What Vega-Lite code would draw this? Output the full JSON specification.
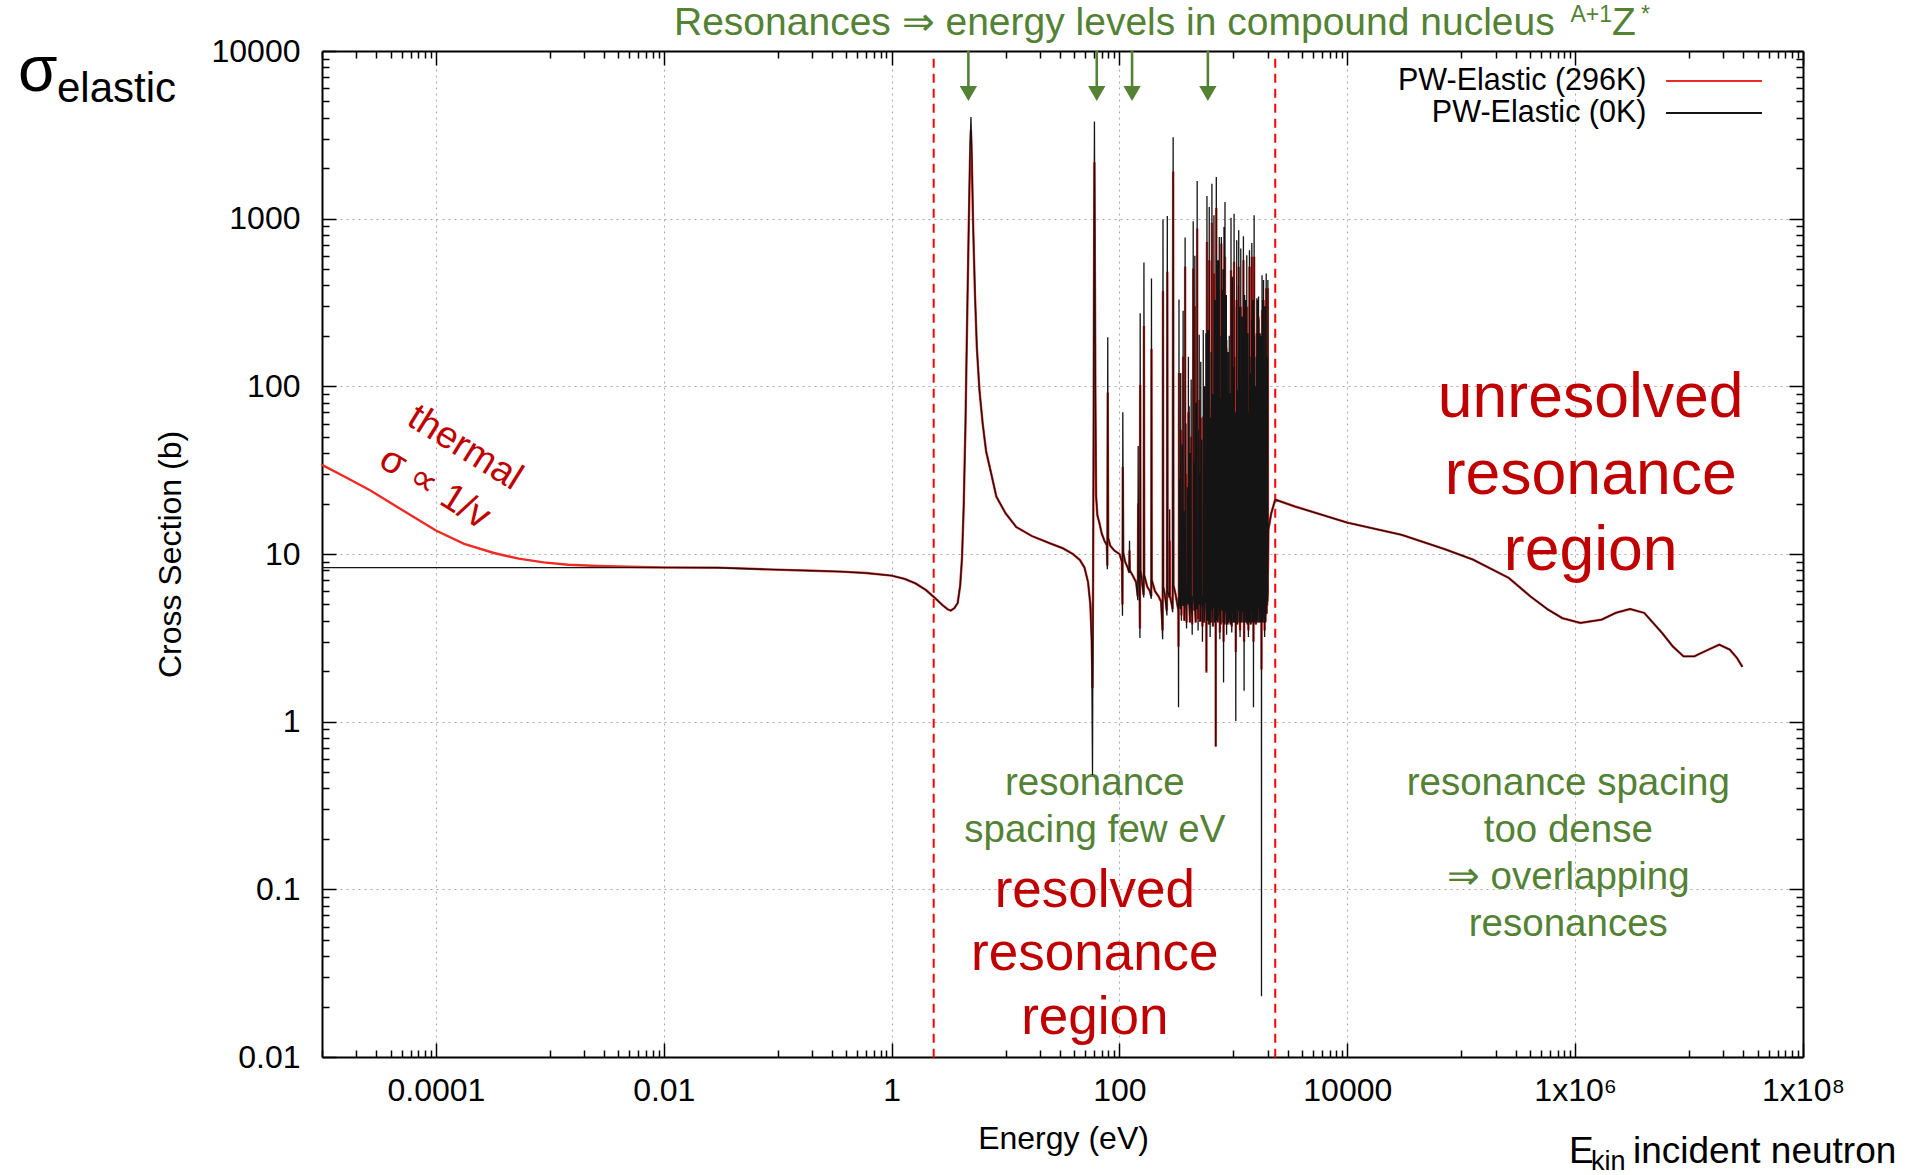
{
  "$schema": "https://vega.github.io/schema/vega-lite/v6.json",
  "width": 1481,
  "height": 1006,
  "autosize": {"type": "none"},
  "padding": {"left": 322, "top": 51, "right": 115, "bottom": 118},
  "background": "white",
  "config": {
    "view": {"stroke": null},
    "font": "Liberation Sans",
    "axis": {
      "domainColor": "black", "domainWidth": 2, "tickColor": "black", "tickWidth": 1.5,
      "labelFont": "Liberation Sans", "labelFontSize": 32, "labelColor": "black",
      "titleFont": "Liberation Sans", "titleFontSize": 32, "titleFontWeight": "normal", "titleColor": "black",
      "gridColor": "#a8a8a8", "gridDash": [2, 4], "gridWidth": 1,
      "labelFlush": false, "labelOverlap": false, "labelBound": false
    }
  },
  "datasets": {
    "xs": [
      {"E":0.00001,"b":8.29,"r":34.0},{"E":0.000016,"b":8.29,"r":28.8},{"E":0.0000264,"b":8.29,"r":24.0},{"E":0.0000506,"b":8.29,"r":18.3},
      {"E":0.0001,"b":8.29,"r":13.8},{"E":0.000177,"b":8.29,"r":11.5},{"E":0.000323,"b":8.29,"r":10.14},{"E":0.000533,"b":8.29,"r":9.38},
      {"E":0.000881,"b":8.29,"r":8.92},{"E":0.00145,"b":8.29,"r":8.63},{"E":0.00265,"b":8.3,"r":8.48},{"E":0.00484,"b":8.3,"r":8.4},
      {"E":0.01,"b":8.3,"r":8.32},{"E":0.03,"b":8.28,"r":8.29},{"E":0.08,"b":8.1,"r":8.1},{"E":0.2,"b":7.95,"r":7.95},
      {"E":0.36,"b":7.85,"r":7.85},{"E":0.6,"b":7.7,"r":7.7},{"E":1.0,"b":7.43,"r":7.43},{"E":1.3,"b":7.1,"r":7.1},
      {"E":1.62,"b":6.68,"r":6.68},{"E":2.0,"b":6.1,"r":6.1},{"E":2.42,"b":5.44,"r":5.44},{"E":2.8,"b":4.95,"r":4.95},
      {"E":3.1,"b":4.68,"r":4.68},{"E":3.3,"b":4.6,"r":4.6},{"E":3.55,"b":4.75,"r":4.75},{"E":3.8,"b":5.1,"r":5.1},
      {"E":4.0,"b":6.5,"r":6.5},{"E":4.15,"b":9.5,"r":9.5},{"E":4.3,"b":20,"r":20},{"E":4.45,"b":60,"r":60},
      {"E":4.6,"b":250,"r":240},{"E":4.75,"b":900,"r":850},{"E":4.88,"b":2600,"r":2300},{"E":4.97,"b":4040,"r":3370},
      {"E":5.06,"b":2400,"r":2200},{"E":5.2,"b":900,"r":870},{"E":5.4,"b":350,"r":340},{"E":5.6,"b":170,"r":170},
      {"E":5.9,"b":95,"r":95},{"E":6.3,"b":60,"r":60},{"E":6.75,"b":41,"r":41},{"E":7.5,"b":30,"r":30},
      {"E":8.3,"b":22,"r":22},{"E":10,"b":17.5,"r":17.5},{"E":12.4,"b":14.5,"r":14.5},{"E":17,"b":12.8,"r":12.8},
      {"E":24.3,"b":11.6,"r":11.6},{"E":32,"b":10.8,"r":10.8},{"E":39,"b":10.0,"r":10.0},{"E":45,"b":9.2,"r":9.2},
      {"E":49.3,"b":8.3,"r":8.3},{"E":53,"b":6.8,"r":6.8},{"E":55.5,"b":5.0,"r":5.0},{"E":57,"b":3.0,"r":3.2},
      {"E":58,"b":0.48,"r":1.59},{"E":58.7,"b":8,"r":7},{"E":59.3,"b":60,"r":50},{"E":59.8,"b":600,"r":450},
      {"E":60.3,"b":3800,"r":2170},{"E":60.8,"b":700,"r":600},{"E":61.5,"b":90,"r":85},{"E":62.4,"b":22,"r":22},
      {"E":64,"b":17,"r":17},{"E":66.7,"b":15.3,"r":15.3},{"E":70,"b":13.2,"r":13.2},{"E":73.8,"b":12.0,"r":12.0},
      {"E":77.5,"b":11.3,"r":11.3},{"E":78.3,"b":8.1,"r":8.5},{"E":78.9,"b":196,"r":92},{"E":79.6,"b":12.5,"r":12.5},
      {"E":83,"b":11.2,"r":11.2},{"E":90,"b":10.5,"r":10.5},{"E":100,"b":10.0,"r":10.0},{"E":105,"b":9.0,"r":9.0},
      {"E":106.3,"b":4.28,"r":5.0},{"E":107,"b":70,"r":33},{"E":108,"b":10.2,"r":10.2},{"E":112,"b":9.0,"r":9.0},
      {"E":118,"b":8.3,"r":8.3},{"E":121.8,"b":7.7,"r":7.8},{"E":122.5,"b":12,"r":10.5},{"E":123.2,"b":8.0,"r":8.0},
      {"E":130,"b":7.5,"r":7.5},{"E":140,"b":6.8,"r":6.8},{"E":145,"b":5.3,"r":5.6},{"E":146,"b":44,"r":20},
      {"E":147,"b":8.0,"r":8.0},{"E":150,"b":6.5,"r":6.5},{"E":151.3,"b":3.15,"r":3.6},{"E":152,"b":273,"r":102},
      {"E":153,"b":8.0,"r":8.0},{"E":158,"b":6.8,"r":6.8},{"E":163.3,"b":5.5,"r":5.7},{"E":164,"b":548,"r":229},
      {"E":165,"b":7.5,"r":7.5},{"E":175,"b":6.4,"r":6.4},{"E":185,"b":6.0,"r":6.0},{"E":190.2,"b":5.4,"r":5.6},
      {"E":191,"b":440,"r":167},{"E":192,"b":7.0,"r":7.0},{"E":205,"b":6.0,"r":6.0},{"E":220,"b":5.6,"r":5.6},
      {"E":232,"b":5.2,"r":5.2},{"E":239.5,"b":3.1,"r":3.5},{"E":241,"b":987,"r":370},{"E":242.5,"b":6.4,"r":6.4},
      {"E":252,"b":5.5,"r":5.5},{"E":261,"b":4.3,"r":4.6},{"E":263,"b":1037,"r":482},{"E":265,"b":6.0,"r":6.0},
      {"E":275.2,"b":5.5,"r":5.5},{"E":276,"b":18.5,"r":12},{"E":277,"b":5.6,"r":5.6},{"E":288,"b":5.0,"r":5.0},
      {"E":293,"b":4.5,"r":4.7},{"E":296,"b":3055,"r":1911},{"E":298,"b":6.5,"r":6.5},{"E":310,"b":5.8,"r":5.8},
      {"E":322,"b":5.0,"r":5.0},{"E":329,"b":4.6,"r":4.6},{"E":330,"b":1.22,"r":2.8},{"E":331,"b":5.4,"r":5.4},
      {"E":332.2,"b":5.4,"r":5.4},{"E":333,"b":330,"r":120},{"E":333.8,"b":6.2,"r":6.2},{"E":338,"b":5.5,"r":5.5},
      {"E":338.8,"b":28,"r":15},{"E":339.6,"b":5.0,"r":5.0},{"E":344,"b":4.7,"r":4.7},{"E":345,"b":120,"r":55},
      {"E":346,"b":6.0,"r":6.0},{"E":349,"b":5.2,"r":5.2},{"E":350,"b":4.0,"r":4.3},{"E":351,"b":5.6,"r":5.6},
      {"E":355,"b":6.5,"r":6.5},{"E":355.8,"b":45,"r":22},{"E":356.6,"b":5.8,"r":5.8},{"E":361,"b":4.9,"r":4.9},
      {"E":362,"b":282,"r":150},{"E":363,"b":6.3,"r":6.3},{"E":369,"b":5.5,"r":5.5},{"E":370,"b":18,"r":10},
      {"E":371,"b":4.0,"r":4.0},{"E":376,"b":5.9,"r":5.9},{"E":377,"b":771,"r":516},{"E":378,"b":6.8,"r":6.8},
      {"E":382,"b":5.2,"r":5.2},{"E":383,"b":60,"r":30},{"E":384,"b":5.0,"r":5.0},{"E":387,"b":4.5,"r":4.5},
      {"E":388,"b":3.6,"r":3.9},{"E":389,"b":5.5,"r":5.5},{"E":395,"b":6.6,"r":6.6},{"E":396,"b":25,"r":14},
      {"E":397,"b":5.3,"r":5.3},{"E":402,"b":5.0,"r":5.0},{"E":402.8,"b":150,"r":70},{"E":403.6,"b":5.8,"r":5.8},
      {"E":408,"b":6.0,"r":6.0},{"E":409,"b":76,"r":28},{"E":410,"b":5.0,"r":5.0},{"E":416,"b":3.9,"r":3.9},
      {"E":417,"b":40,"r":20},{"E":418,"b":6.2,"r":6.2},{"E":425,"b":5.5,"r":5.5},{"E":426,"b":110,"r":50},
      {"E":427,"b":4.8,"r":4.8},{"E":434,"b":4.2,"r":4.2},{"E":435,"b":3.3,"r":3.8},{"E":436,"b":5.6,"r":5.6},
      {"E":443,"b":5.4,"r":5.4},{"E":444,"b":964,"r":505},{"E":445,"b":6.4,"r":6.4},{"E":451,"b":5.0,"r":5.0},
      {"E":452,"b":35,"r":18},{"E":453,"b":4.6,"r":4.6},{"E":458,"b":5.8,"r":5.8},{"E":459,"b":600,"r":300},
      {"E":460,"b":4.9,"r":4.9},{"E":467,"b":3.9,"r":3.9},{"E":468,"b":80,"r":38},{"E":469,"b":6.0,"r":6.0},
      {"E":474,"b":5.6,"r":5.6},{"E":475,"b":22,"r":12},{"E":476,"b":4.8,"r":4.8},{"E":480,"b":4.7,"r":4.7},
      {"E":481,"b":1675,"r":873},{"E":482,"b":6.5,"r":6.5},{"E":489,"b":4.6,"r":4.6},{"E":490,"b":3.5,"r":4.1},
      {"E":491,"b":5.8,"r":5.8},{"E":495,"b":6.2,"r":6.2},{"E":496,"b":55,"r":26},{"E":497,"b":5.2,"r":5.2},
      {"E":500,"b":5.0,"r":5.0},{"E":501,"b":203,"r":83},{"E":502,"b":6.1,"r":6.1},{"E":508,"b":5.4,"r":5.4},
      {"E":509,"b":30,"r":16},{"E":510,"b":4.0,"r":4.0},{"E":516,"b":4.0,"r":4.0},{"E":517,"b":140,"r":65},
      {"E":518,"b":5.9,"r":5.9},{"E":525,"b":6.4,"r":6.4},{"E":526,"b":48,"r":24},{"E":527,"b":5.5,"r":5.5},
      {"E":534,"b":4.6,"r":4.6},{"E":535,"b":3.0,"r":3.7},{"E":536,"b":5.2,"r":5.2},{"E":543,"b":5.7,"r":5.7},
      {"E":544,"b":217,"r":66},{"E":545,"b":4.9,"r":4.9},{"E":550,"b":5.8,"r":5.8},{"E":551,"b":65,"r":35},
      {"E":552,"b":3.9,"r":3.9},{"E":557,"b":4.2,"r":4.2},{"E":558,"b":100,"r":48},{"E":559,"b":6.0,"r":6.0},
      {"E":566,"b":5.5,"r":5.5},{"E":567,"b":35,"r":18},{"E":568,"b":5.1,"r":5.1},{"E":573,"b":6.1,"r":6.1},
      {"E":574,"b":207,"r":100},{"E":575,"b":4.8,"r":4.8},{"E":579,"b":4.4,"r":4.4},{"E":580,"b":2.0,"r":1.96},
      {"E":581,"b":5.3,"r":5.3},{"E":585,"b":5.0,"r":5.0},{"E":586,"b":1365,"r":726},{"E":587,"b":6.4,"r":6.4},
      {"E":593,"b":5.6,"r":5.6},{"E":594,"b":28,"r":15},{"E":595,"b":4.0,"r":4.0},{"E":600,"b":4.9,"r":4.9},
      {"E":601,"b":217,"r":100},{"E":602,"b":6.0,"r":6.0},{"E":607,"b":5.3,"r":5.3},{"E":608,"b":70,"r":34},
      {"E":609,"b":3.8,"r":3.8},{"E":613,"b":4.8,"r":4.8},{"E":614,"b":1173,"r":565},{"E":615,"b":6.2,"r":6.2},
      {"E":619,"b":5.6,"r":5.6},{"E":620,"b":40,"r":20},{"E":621,"b":5.0,"r":5.0},{"E":624,"b":4.4,"r":4.4},
      {"E":625,"b":3.2,"r":3.9},{"E":626,"b":5.4,"r":5.4},{"E":630,"b":5.8,"r":5.8},{"E":631,"b":65,"r":35},
      {"E":632,"b":4.7,"r":4.7},{"E":637,"b":3.9,"r":3.9},{"E":638,"b":160,"r":75},{"E":639,"b":6.0,"r":6.0},
      {"E":643,"b":5.4,"r":5.4},{"E":644,"b":30,"r":16},{"E":645,"b":5.0,"r":5.0},{"E":647,"b":4.6,"r":4.6},
      {"E":648,"b":1615,"r":947},{"E":649,"b":6.4,"r":6.4},{"E":656,"b":5.7,"r":5.7},{"E":657,"b":37,"r":20},
      {"E":658,"b":4.5,"r":4.5},{"E":662,"b":3.7,"r":3.7},{"E":663,"b":90,"r":42},{"E":664,"b":5.9,"r":5.9},
      {"E":669,"b":6.2,"r":6.2},{"E":670,"b":25,"r":14},{"E":671,"b":5.0,"r":5.0},{"E":674,"b":4.8,"r":4.8},
      {"E":675,"b":1047,"r":471},{"E":676,"b":6.0,"r":6.0},{"E":682,"b":5.4,"r":5.4},{"E":683,"b":55,"r":26},
      {"E":684,"b":3.9,"r":3.9},{"E":688,"b":4.6,"r":4.6},{"E":689,"b":327,"r":150},{"E":690,"b":5.6,"r":5.6},
      {"E":694,"b":6.0,"r":6.0},{"E":695,"b":20,"r":12},{"E":696,"b":5.2,"r":5.2},{"E":699,"b":4.5,"r":4.5},
      {"E":700,"b":0.71,"r":0.71},{"E":701,"b":5.4,"r":5.4},{"E":707,"b":4.9,"r":4.9},{"E":708,"b":1770,"r":1157},
      {"E":709,"b":6.6,"r":6.6},{"E":714,"b":5.5,"r":5.5},{"E":715,"b":120,"r":55},{"E":716,"b":4.0,"r":4.0},
      {"E":721,"b":4.8,"r":4.8},{"E":722,"b":565,"r":260},{"E":723,"b":6.1,"r":6.1},{"E":729,"b":5.8,"r":5.8},
      {"E":730,"b":45,"r":22},{"E":731,"b":3.9,"r":3.9},{"E":737,"b":4.4,"r":4.4},{"E":738,"b":565,"r":261},
      {"E":739,"b":5.8,"r":5.8},{"E":745,"b":6.3,"r":6.3},{"E":746,"b":30,"r":16},{"E":747,"b":5.1,"r":5.1},
      {"E":751,"b":4.9,"r":4.9},{"E":752,"b":778,"r":380},{"E":753,"b":6.0,"r":6.0},{"E":760,"b":4.2,"r":4.2},
      {"E":761,"b":3.1,"r":3.4},{"E":762,"b":5.0,"r":5.0},{"E":767,"b":5.8,"r":5.8},{"E":768,"b":85,"r":40},
      {"E":769,"b":4.7,"r":4.7},{"E":775,"b":3.8,"r":3.8},{"E":776,"b":200,"r":95},{"E":777,"b":6.2,"r":6.2},
      {"E":783,"b":5.3,"r":5.3},{"E":784,"b":778,"r":710},{"E":785,"b":6.5,"r":6.5},{"E":789,"b":5.6,"r":5.6},
      {"E":790,"b":38,"r":19},{"E":791,"b":4.6,"r":4.6},{"E":793,"b":4.7,"r":4.7},{"E":794,"b":375,"r":180},
      {"E":795,"b":5.7,"r":5.7},{"E":801,"b":6.4,"r":6.4},{"E":802,"b":60,"r":30},{"E":803,"b":5.2,"r":5.2},
      {"E":809,"b":5.0,"r":5.0},{"E":810,"b":500,"r":250},{"E":811,"b":3.9,"r":3.9},{"E":815,"b":5.9,"r":5.9},
      {"E":816,"b":26,"r":14},{"E":817,"b":5.0,"r":5.0},{"E":819,"b":4.6,"r":4.6},{"E":820,"b":1.71,"r":3.0},
      {"E":821,"b":5.2,"r":5.2},{"E":826,"b":4.8,"r":4.8},{"E":827,"b":891,"r":375},{"E":828,"b":6.3,"r":6.3},
      {"E":835,"b":5.5,"r":5.5},{"E":836,"b":45,"r":22},{"E":837,"b":3.8,"r":3.8},{"E":843,"b":4.7,"r":4.7},
      {"E":844,"b":1256,"r":592},{"E":845,"b":6.5,"r":6.5},{"E":850,"b":5.8,"r":5.8},{"E":851,"b":120,"r":58},
      {"E":852,"b":5.0,"r":5.0},{"E":858,"b":4.5,"r":4.5},{"E":859,"b":33,"r":17},{"E":860,"b":6.1,"r":6.1},
      {"E":866,"b":5.9,"r":5.9},{"E":867,"b":350,"r":170},{"E":868,"b":4.8,"r":4.8},{"E":871,"b":4.3,"r":4.3},
      {"E":872,"b":3.3,"r":3.9},{"E":873,"b":189,"r":95},{"E":874,"b":5.5,"r":5.5},{"E":880,"b":6.2,"r":6.2},
      {"E":881,"b":50,"r":25},{"E":882,"b":5.1,"r":5.1},{"E":889,"b":3.8,"r":3.8},{"E":890,"b":22,"r":12},
      {"E":891,"b":5.6,"r":5.6},{"E":896,"b":5.3,"r":5.3},{"E":897,"b":160,"r":75},{"E":898,"b":4.6,"r":4.6},
      {"E":902,"b":4.9,"r":4.9},{"E":903,"b":95,"r":45},{"E":904,"b":6.2,"r":6.2},{"E":910,"b":5.6,"r":5.6},
      {"E":911,"b":35,"r":18},{"E":912,"b":3.9,"r":3.9},{"E":919,"b":4.2,"r":4.2},{"E":920,"b":200,"r":90},
      {"E":921,"b":5.8,"r":5.8},{"E":927,"b":6.0,"r":6.0},{"E":928,"b":60,"r":30},{"E":929,"b":4.9,"r":4.9},
      {"E":934,"b":4.6,"r":4.6},{"E":935,"b":91,"r":45},{"E":936,"b":6.3,"r":6.3},{"E":942,"b":5.2,"r":5.2},
      {"E":943,"b":28,"r":15},{"E":944,"b":3.8,"r":3.8},{"E":952,"b":4.7,"r":4.7},{"E":953,"b":1014,"r":493},
      {"E":954,"b":6.4,"r":6.4},{"E":960,"b":5.5,"r":5.5},{"E":961,"b":40,"r":20},{"E":962,"b":4.8,"r":4.8},
      {"E":966,"b":4.3,"r":4.3},{"E":968,"b":3.4,"r":3.7},{"E":970,"b":5.3,"r":5.3},{"E":978,"b":5.8,"r":5.8},
      {"E":980,"b":450,"r":220},{"E":982,"b":4.6,"r":4.6},{"E":985,"b":5.0,"r":5.0},{"E":986,"b":73,"r":35},
      {"E":987,"b":6.0,"r":6.0},{"E":995,"b":5.6,"r":5.6},{"E":996,"b":25,"r":13},{"E":997,"b":3.9,"r":3.9},
      {"E":1004,"b":4.9,"r":4.9},{"E":1005,"b":130,"r":60},{"E":1006,"b":6.2,"r":6.2},{"E":1012,"b":4.6,"r":4.6},
      {"E":1014,"b":1071,"r":553},{"E":1016,"b":6.0,"r":6.0},{"E":1020,"b":5.2,"r":5.2},{"E":1021,"b":150,"r":70},
      {"E":1022,"b":3.9,"r":3.9},{"E":1030,"b":5.9,"r":5.9},{"E":1031,"b":32,"r":17},{"E":1032,"b":5.1,"r":5.1},
      {"E":1040,"b":5.5,"r":5.5},{"E":1041,"b":70,"r":34},{"E":1042,"b":4.6,"r":4.6},{"E":1048,"b":4.4,"r":4.4},
      {"E":1050,"b":1.01,"r":2.6},{"E":1052,"b":5.5,"r":5.5},{"E":1058,"b":6.0,"r":6.0},{"E":1059,"b":45,"r":22},
      {"E":1060,"b":5.0,"r":5.0},{"E":1063,"b":4.7,"r":4.7},{"E":1065,"b":300,"r":150},{"E":1067,"b":6.0,"r":6.0},
      {"E":1068,"b":5.5,"r":5.5},{"E":1070,"b":743,"r":327},{"E":1072,"b":6.3,"r":6.3},{"E":1080,"b":5.0,"r":5.0},
      {"E":1081,"b":28,"r":15},{"E":1082,"b":3.8,"r":3.8},{"E":1090,"b":5.8,"r":5.8},{"E":1091,"b":95,"r":45},
      {"E":1092,"b":5.2,"r":5.2},{"E":1100,"b":4.6,"r":4.6},{"E":1101,"b":40,"r":20},{"E":1102,"b":6.1,"r":6.1},
      {"E":1108,"b":5.6,"r":5.6},{"E":1110,"b":400,"r":200},{"E":1112,"b":4.8,"r":4.8},{"E":1113,"b":4.8,"r":4.8},
      {"E":1114,"b":852,"r":516},{"E":1116,"b":6.4,"r":6.4},{"E":1121,"b":5.0,"r":5.0},{"E":1122,"b":55,"r":27},
      {"E":1123,"b":3.9,"r":3.9},{"E":1127,"b":4.7,"r":4.7},{"E":1129,"b":298,"r":140},{"E":1131,"b":6.0,"r":6.0},
      {"E":1137,"b":5.7,"r":5.7},{"E":1138,"b":30,"r":16},{"E":1139,"b":5.0,"r":5.0},{"E":1143,"b":4.4,"r":4.4},
      {"E":1145,"b":3.2,"r":3.5},{"E":1147,"b":5.4,"r":5.4},{"E":1152,"b":6.2,"r":6.2},{"E":1153,"b":75,"r":36},
      {"E":1154,"b":5.2,"r":5.2},{"E":1159,"b":4.8,"r":4.8},{"E":1161,"b":663,"r":298},{"E":1163,"b":6.2,"r":6.2},
      {"E":1170,"b":5.4,"r":5.4},{"E":1171,"b":40,"r":20},{"E":1172,"b":3.9,"r":3.9},{"E":1178,"b":4.9,"r":4.9},
      {"E":1180,"b":250,"r":120},{"E":1182,"b":6.0,"r":6.0},{"E":1190,"b":5.6,"r":5.6},{"E":1192,"b":261,"r":120},
      {"E":1194,"b":4.8,"r":4.8},{"E":1200,"b":4.5,"r":4.5},{"E":1201,"b":32,"r":17},{"E":1202,"b":5.8,"r":5.8},
      {"E":1210,"b":6.3,"r":6.3},{"E":1211,"b":90,"r":43},{"E":1212,"b":5.0,"r":5.0},{"E":1217,"b":3.9,"r":3.9},
      {"E":1218,"b":45,"r":22},{"E":1219,"b":5.4,"r":5.4},{"E":1223,"b":5.5,"r":5.5},{"E":1225,"b":785,"r":565},
      {"E":1227,"b":6.5,"r":6.5},{"E":1233,"b":5.0,"r":5.0},{"E":1234,"b":28,"r":15},{"E":1235,"b":4.6,"r":4.6},
      {"E":1240,"b":4.3,"r":4.3},{"E":1242,"b":1.53,"r":3.0},{"E":1244,"b":5.5,"r":5.5},{"E":1253,"b":5.8,"r":5.8},
      {"E":1255,"b":350,"r":170},{"E":1257,"b":4.9,"r":4.9},{"E":1264,"b":3.9,"r":3.9},{"E":1265,"b":60,"r":30},
      {"E":1266,"b":6.0,"r":6.0},{"E":1274,"b":5.6,"r":5.6},{"E":1276,"b":327,"r":150},{"E":1278,"b":4.7,"r":4.7},
      {"E":1285,"b":5.0,"r":5.0},{"E":1286,"b":38,"r":19},{"E":1287,"b":5.9,"r":5.9},{"E":1294,"b":6.1,"r":6.1},
      {"E":1295,"b":110,"r":52},{"E":1296,"b":5.0,"r":5.0},{"E":1302,"b":3.9,"r":3.9},{"E":1303,"b":25,"r":14},
      {"E":1304,"b":5.5,"r":5.5},{"E":1309,"b":5.3,"r":5.3},{"E":1311,"b":605,"r":298},{"E":1313,"b":6.3,"r":6.3},
      {"E":1320,"b":5.6,"r":5.6},{"E":1322,"b":200,"r":100},{"E":1324,"b":4.5,"r":4.5},{"E":1329,"b":3.8,"r":3.8},
      {"E":1330,"b":45,"r":22},{"E":1331,"b":5.6,"r":5.6},{"E":1335,"b":5.8,"r":5.8},{"E":1337,"b":207,"r":100},
      {"E":1339,"b":4.9,"r":4.9},{"E":1345,"b":5.0,"r":5.0},{"E":1346,"b":30,"r":16},{"E":1347,"b":6.1,"r":6.1},
      {"E":1353,"b":4.3,"r":4.3},{"E":1355,"b":3.2,"r":3.5},{"E":1357,"b":5.2,"r":5.2},{"E":1365,"b":5.9,"r":5.9},
      {"E":1366,"b":70,"r":34},{"E":1367,"b":4.8,"r":4.8},{"E":1374,"b":3.9,"r":3.9},{"E":1375,"b":35,"r":18},
      {"E":1376,"b":5.7,"r":5.7},{"E":1378,"b":5.3,"r":5.3},{"E":1379,"b":300,"r":150},{"E":1380,"b":4.8,"r":4.8},
      {"E":1382,"b":5.0,"r":5.0},{"E":1384,"b":649,"r":516},{"E":1386,"b":6.4,"r":6.4},{"E":1392,"b":5.4,"r":5.4},
      {"E":1393,"b":40,"r":20},{"E":1394,"b":3.9,"r":3.9},{"E":1401,"b":4.7,"r":4.7},{"E":1403,"b":120,"r":60},
      {"E":1405,"b":6.0,"r":6.0},{"E":1412,"b":5.9,"r":5.9},{"E":1413,"b":55,"r":27},{"E":1414,"b":5.0,"r":5.0},
      {"E":1421,"b":3.8,"r":3.8},{"E":1422,"b":28,"r":15},{"E":1423,"b":5.8,"r":5.8},{"E":1430,"b":6.2,"r":6.2},
      {"E":1431,"b":150,"r":70},{"E":1432,"b":4.9,"r":4.9},{"E":1440,"b":4.6,"r":4.6},{"E":1441,"b":40,"r":20},
      {"E":1442,"b":5.4,"r":5.4},{"E":1444,"b":5.3,"r":5.3},{"E":1445,"b":250,"r":120},{"E":1446,"b":4.8,"r":4.8},
      {"E":1450,"b":5.0,"r":5.0},{"E":1452,"b":716,"r":592},{"E":1454,"b":6.4,"r":6.4},{"E":1460,"b":5.6,"r":5.6},
      {"E":1461,"b":35,"r":18},{"E":1462,"b":3.9,"r":3.9},{"E":1468,"b":4.4,"r":4.4},{"E":1469,"b":80,"r":38},
      {"E":1470,"b":5.9,"r":5.9},{"E":1480,"b":5.9,"r":5.9},{"E":1482,"b":327,"r":150},{"E":1484,"b":4.8,"r":4.8},
      {"E":1490,"b":5.2,"r":5.2},{"E":1491,"b":45,"r":22},{"E":1492,"b":4.6,"r":4.6},{"E":1499,"b":4.3,"r":4.3},
      {"E":1501,"b":1.22,"r":3.0},{"E":1503,"b":5.4,"r":5.4},{"E":1510,"b":5.7,"r":5.7},{"E":1511,"b":60,"r":30},
      {"E":1512,"b":5.0,"r":5.0},{"E":1519,"b":4.8,"r":4.8},{"E":1521,"b":1047,"r":592},{"E":1523,"b":6.5,"r":6.5},
      {"E":1530,"b":5.3,"r":5.3},{"E":1531,"b":200,"r":100},{"E":1532,"b":3.9,"r":3.9},{"E":1540,"b":4.5,"r":4.5},
      {"E":1541,"b":30,"r":16},{"E":1542,"b":5.8,"r":5.8},{"E":1550,"b":6.0,"r":6.0},{"E":1551,"b":100,"r":48},
      {"E":1552,"b":5.0,"r":5.0},{"E":1562,"b":4.7,"r":4.7},{"E":1564,"b":73,"r":35},{"E":1566,"b":5.9,"r":5.9},
      {"E":1575,"b":5.4,"r":5.4},{"E":1576,"b":40,"r":20},{"E":1577,"b":3.8,"r":3.8},{"E":1585,"b":4.6,"r":4.6},
      {"E":1586,"b":150,"r":72},{"E":1587,"b":6.1,"r":6.1},{"E":1595,"b":5.8,"r":5.8},{"E":1596,"b":28,"r":15},
      {"E":1597,"b":5.0,"r":5.0},{"E":1604,"b":4.7,"r":4.7},{"E":1606,"b":335,"r":207},{"E":1608,"b":6.2,"r":6.2},
      {"E":1615,"b":5.3,"r":5.3},{"E":1616,"b":55,"r":27},{"E":1617,"b":3.9,"r":3.9},{"E":1625,"b":4.5,"r":4.5},
      {"E":1626,"b":90,"r":44},{"E":1627,"b":5.8,"r":5.8},{"E":1639,"b":5.9,"r":5.9},{"E":1641,"b":327,"r":150},
      {"E":1643,"b":4.8,"r":4.8},{"E":1650,"b":5.0,"r":5.0},{"E":1651,"b":35,"r":18},{"E":1652,"b":5.6,"r":5.6},
      {"E":1660,"b":4.8,"r":4.8},{"E":1662,"b":343,"r":261},{"E":1664,"b":6.4,"r":6.4},{"E":1672,"b":5.5,"r":5.5},
      {"E":1673,"b":250,"r":120},{"E":1674,"b":3.9,"r":3.9},{"E":1682,"b":4.5,"r":4.5},{"E":1683,"b":40,"r":20},
      {"E":1684,"b":5.9,"r":5.9},{"E":1692,"b":6.1,"r":6.1},{"E":1693,"b":65,"r":32},{"E":1694,"b":5.1,"r":5.1},
      {"E":1703,"b":3.9,"r":3.9},{"E":1704,"b":30,"r":16},{"E":1705,"b":5.6,"r":5.6},{"E":1716,"b":5.5,"r":5.5},
      {"E":1718,"b":207,"r":100},{"E":1720,"b":4.6,"r":4.6},{"E":1728,"b":4.4,"r":4.4},{"E":1729,"b":120,"r":58},
      {"E":1730,"b":6.0,"r":6.0},{"E":1738,"b":5.8,"r":5.8},{"E":1739,"b":45,"r":22},{"E":1740,"b":5.0,"r":5.0},
      {"E":1750,"b":5.2,"r":5.2},{"E":1751,"b":200,"r":100},{"E":1752,"b":3.9,"r":3.9},{"E":1762,"b":4.4,"r":4.4},
      {"E":1765,"b":0.023,"r":2.05},{"E":1768,"b":5.3,"r":5.3},{"E":1783,"b":5.0,"r":5.0},{"E":1785,"b":460,"r":285},
      {"E":1787,"b":6.4,"r":6.4},{"E":1795,"b":5.6,"r":5.6},{"E":1796,"b":38,"r":19},{"E":1797,"b":3.9,"r":3.9},
      {"E":1805,"b":4.5,"r":4.5},{"E":1806,"b":85,"r":42},{"E":1807,"b":5.9,"r":5.9},{"E":1813,"b":5.8,"r":5.8},
      {"E":1815,"b":327,"r":150},{"E":1817,"b":4.7,"r":4.7},{"E":1825,"b":4.6,"r":4.6},{"E":1826,"b":250,"r":130},
      {"E":1827,"b":5.6,"r":5.6},{"E":1838,"b":5.1,"r":5.1},{"E":1840,"b":430,"r":327},{"E":1842,"b":6.3,"r":6.3},
      {"E":1850,"b":5.5,"r":5.5},{"E":1851,"b":40,"r":20},{"E":1852,"b":3.9,"r":3.9},{"E":1860,"b":4.5,"r":4.5},
      {"E":1861,"b":70,"r":34},{"E":1862,"b":5.8,"r":5.8},{"E":1870,"b":5.9,"r":5.9},{"E":1871,"b":30,"r":16},
      {"E":1872,"b":5.0,"r":5.0},{"E":1877,"b":4.3,"r":4.3},{"E":1880,"b":3.2,"r":3.5},{"E":1883,"b":5.3,"r":5.3},
      {"E":1890,"b":5.8,"r":5.8},{"E":1891,"b":300,"r":150},{"E":1892,"b":4.9,"r":4.9},{"E":1899,"b":4.9,"r":4.9},
      {"E":1901,"b":198,"r":100},{"E":1903,"b":6.0,"r":6.0},{"E":1910,"b":5.6,"r":5.6},{"E":1911,"b":50,"r":25},
      {"E":1912,"b":3.9,"r":3.9},{"E":1920,"b":4.6,"r":4.6},{"E":1921,"b":35,"r":18},{"E":1922,"b":5.9,"r":5.9},
      {"E":1930,"b":5.8,"r":5.8},{"E":1931,"b":150,"r":80},{"E":1932,"b":4.8,"r":4.8},{"E":1939,"b":5.0,"r":5.0},
      {"E":1941,"b":471,"r":384},{"E":1943,"b":6.5,"r":6.5},{"E":1950,"b":5.5,"r":5.5},{"E":1951,"b":40,"r":20},
      {"E":1952,"b":4.6,"r":4.6},{"E":1960,"b":4.4,"r":4.4},{"E":1961,"b":90,"r":45},{"E":1962,"b":6.0,"r":6.0},
      {"E":1970,"b":5.9,"r":5.9},{"E":1971,"b":28,"r":15},{"E":1972,"b":5.0,"r":5.0},{"E":1980,"b":5.0,"r":5.0},
      {"E":1981,"b":150,"r":80},{"E":1982,"b":6.2,"r":6.2},{"E":1990,"b":5.6,"r":5.6},{"E":1991,"b":45,"r":22},
      {"E":1992,"b":5.2,"r":5.2},{"E":2006,"b":6.0,"r":6.0},{"E":2008,"b":430,"r":384},{"E":2010,"b":7.5,"r":7.5},
      {"E":2030,"b":14,"r":14},{"E":2150,"b":17.5,"r":17.5},{"E":2330,"b":21.1,"r":21.1},{"E":3470,"b":19.2,"r":19.2},
      {"E":10000,"b":15.4,"r":15.4},{"E":30100,"b":13.0,"r":13.0},{"E":71500,"b":10.7,"r":10.7},{"E":127000,"b":9.25,"r":9.25},
      {"E":262000,"b":7.19,"r":7.19},{"E":404000,"b":5.59,"r":5.59},{"E":578000,"b":4.66,"r":4.66},{"E":770000,"b":4.15,"r":4.15},
      {"E":1110000,"b":3.88,"r":3.88},{"E":1710000,"b":4.06,"r":4.06},{"E":2270000,"b":4.45,"r":4.45},{"E":3030000,"b":4.70,"r":4.70},
      {"E":4050000,"b":4.45,"r":4.45},{"E":5800000,"b":3.38,"r":3.38},{"E":7200000,"b":2.81,"r":2.81},{"E":8940000,"b":2.45,"r":2.45},
      {"E":11100000,"b":2.45,"r":2.45},{"E":13800000,"b":2.63,"r":2.63},{"E":18400000,"b":2.88,"r":2.88},{"E":22800000,"b":2.69,"r":2.69},
      {"E":26300000,"b":2.40,"r":2.40},{"E":29400000,"b":2.12,"r":2.12}
    ],
    "bounds": [{"E": 2.34}, {"E": 2330}],
    "arrows": [{"E": 4.72}, {"E": 63.2}, {"E": 129}, {"E": 597}],
    "t_title": [{"E": 0.0123, "s": 12456, "t": "Resonances ⇒ energy levels in compound nucleus"}, {"E": 2110000, "s": 12456, "t": "Z"}],
    "t_sup": [{"E": 910000, "s": 14894, "t": "A+1"}, {"E": 3780000, "s": 14894, "t": "*"}],
    "t_green": [{"E": 60.8, "s": 0.3656, "t": "resonance\nspacing few eV"}, {"E": 870000, "s": 0.3656, "t": "resonance spacing\ntoo dense\n⇒ overlapping\nresonances"}],
    "t_resolved": [{"E": 60.8, "s": 0.0785, "t": "resolved\nresonance\nregion"}],
    "t_unresolved": [{"E": 1370000, "s": 65.6, "t": "unresolved\nresonance\nregion"}],
    "t_thermal": [{"E": 0.0001596, "s": 37.7, "t": "thermal"}, {"E": 0.0000866, "s": 21.7, "t": "σ ∝ 1/v"}],
    "t_sigma": [{"E": 0.00000002145, "s": 5772, "t": "σ"}],
    "t_elastic": [{"E": 0.0000000472, "s": 4990, "t": "elastic"}],
    "t_ekin": [{"E": 883000, "s": 0.002333, "t": "E"}, {"E": 3220000, "s": 0.002333, "t": "incident neutron"}],
    "t_kin": [{"E": 1377000, "s": 0.00212, "t": "kin"}]
  },
  "layer": [
    {
      "data": {"name": "bounds"},
      "mark": {"type": "rule", "color": "#ff0000", "strokeWidth": 2, "strokeDash": [9, 6]},
      "encoding": {
        "x": {"field": "E", "type": "quantitative", "scale": {"type": "log", "domain": [0.00001, 100000000], "nice": false}, "axis": null},
        "y": {"datum": 9000, "type": "quantitative", "scale": {"type": "log", "domain": [0.01, 10000], "nice": false}, "axis": null},
        "y2": {"datum": 0.0096}
      }
    },
    {
      "data": {"name": "xs"},
      "mark": {"type": "line", "strokeWidth": 2.4},
      "encoding": {
        "x": {
          "field": "E", "type": "quantitative",
          "scale": {"type": "log", "domain": [0.00001, 100000000], "nice": false},
          "axis": {
            "orient": "bottom",
            "values": [0.00001,0.00002,0.00003,0.00004,0.00005,0.00006,0.00007,0.00008,0.00009,0.0001,0.001,0.002,0.003,0.004,0.005,0.006,0.007,0.008,0.009,0.01,0.1,0.2,0.3,0.4,0.5,0.6,0.7,0.8,0.9,1,10,20,30,40,50,60,70,80,90,100,1000,2000,3000,4000,5000,6000,7000,8000,9000,10000,100000,200000,300000,400000,500000,600000,700000,800000,900000,1000000,10000000,20000000,30000000,40000000,50000000,60000000,70000000,80000000,90000000,100000000],
            "labelExpr": "datum.value == 1000000 ? '1x10⁶' : datum.value == 100000000 ? '1x10⁸' : indexof([0.0001,0.01,1,100,10000], datum.value) >= 0 ? format(datum.value, '~f') : ''",
            "tickSize": {"condition": {"test": "indexof([0.0001,0.01,1,100,10000,1000000,100000000], datum.value) >= 0", "value": -14}, "value": -7},
            "labelPadding": 32,
            "grid": true,
            "gridOpacity": {"condition": {"test": "indexof([0.0001,0.01,1,100,10000,1000000], datum.value) >= 0", "value": 1}, "value": 0},
            "title": "Energy (eV)",
            "titleX": 741, "titleY": 81, "titleAlign": "center", "titleBaseline": "middle"
          }
        },
        "y": {
          "field": "r", "type": "quantitative",
          "scale": {"type": "log", "domain": [0.01, 10000], "nice": false},
          "axis": {
            "orient": "left",
            "values": [0.01,0.02,0.03,0.04,0.05,0.06,0.07,0.08,0.09,0.1,0.2,0.3,0.4,0.5,0.6,0.7,0.8,0.9,1,2,3,4,5,6,7,8,9,10,20,30,40,50,60,70,80,90,100,200,300,400,500,600,700,800,900,1000,2000,3000,4000,5000,6000,7000,8000,9000,10000],
            "labelExpr": "indexof([0.01,0.1,1,10,100,1000,10000], datum.value) >= 0 ? format(datum.value, '~f') : ''",
            "tickSize": {"condition": {"test": "indexof([0.01,0.1,1,10,100,1000,10000], datum.value) >= 0", "value": -14}, "value": -7},
            "labelPadding": 36,
            "grid": true,
            "gridOpacity": {"condition": {"test": "indexof([0.1,1,10,100,1000], datum.value) >= 0", "value": 1}, "value": 0},
            "title": "Cross Section (b)",
            "titleAngle": 270, "titleX": -152, "titleY": 503, "titleAlign": "center", "titleBaseline": "middle"
          }
        },
        "color": {
          "datum": "PW-Elastic (296K)", "type": "nominal",
          "scale": {"domain": ["PW-Elastic (296K)", "PW-Elastic (0K)"], "range": ["#ee2a24", "#141414"]},
          "legend": {
            "orient": "none", "legendX": 1342.5, "legendY": 14, "title": null, "padding": 0,
            "symbolType": "stroke", "symbolSize": 9200, "symbolStrokeWidth": 2.2,
            "labelFont": "Liberation Sans", "labelFontSize": 30.5, "labelColor": "black",
            "labelAlign": "right", "labelOffset": -117, "labelLimit": 0,
            "clipHeight": 32, "rowPadding": 0,
            "encode": {"entries": {"update": {"width": {"value": 110}, "height": {"value": 32}}}}
          }
        }
      }
    },
    {
      "data": {"name": "arrows"},
      "mark": {"type": "rule", "color": "#548235", "strokeWidth": 2.6},
      "encoding": {
        "x": {"field": "E", "type": "quantitative", "scale": {"type": "log", "domain": [0.00001, 100000000], "nice": false}, "axis": null},
        "y": {"datum": 10000, "type": "quantitative", "scale": {"type": "log", "domain": [0.01, 10000], "nice": false}, "axis": null},
        "y2": {"datum": 5900}
      }
    },
    {
      "data": {"name": "arrows"},
      "mark": {"type": "point", "shape": "triangle-down", "filled": true, "color": "#548235", "size": 300, "opacity": 1},
      "encoding": {
        "x": {"field": "E", "type": "quantitative", "scale": {"type": "log", "domain": [0.00001, 100000000], "nice": false}, "axis": null},
        "y": {"datum": 5570, "type": "quantitative", "scale": {"type": "log", "domain": [0.01, 10000], "nice": false}, "axis": null}
      }
    },
    {
      "data": {"name": "t_title"},
      "mark": {"type": "text", "font": "Liberation Sans", "fontSize": 39, "color": "#548235", "align": "left", "baseline": "alphabetic"},
      "encoding": {
        "x": {"field": "E", "type": "quantitative", "scale": {"type": "log", "domain": [0.00001, 100000000], "nice": false}, "axis": null},
        "y": {"field": "s", "type": "quantitative", "scale": {"type": "log", "domain": [0.01, 10000], "nice": false}, "axis": null},
        "text": {"field": "t"}
      }
    },
    {
      "data": {"name": "t_sup"},
      "mark": {"type": "text", "font": "Liberation Sans", "fontSize": 23, "color": "#548235", "align": "left", "baseline": "alphabetic"},
      "encoding": {
        "x": {"field": "E", "type": "quantitative", "scale": {"type": "log", "domain": [0.00001, 100000000], "nice": false}, "axis": null},
        "y": {"field": "s", "type": "quantitative", "scale": {"type": "log", "domain": [0.01, 10000], "nice": false}, "axis": null},
        "text": {"field": "t"}
      }
    },
    {
      "data": {"name": "t_green"},
      "mark": {"type": "text", "font": "Liberation Sans", "fontSize": 38.5, "color": "#548235", "align": "center", "baseline": "alphabetic", "lineBreak": "\n", "lineHeight": 47},
      "encoding": {
        "x": {"field": "E", "type": "quantitative", "scale": {"type": "log", "domain": [0.00001, 100000000], "nice": false}, "axis": null},
        "y": {"field": "s", "type": "quantitative", "scale": {"type": "log", "domain": [0.01, 10000], "nice": false}, "axis": null},
        "text": {"field": "t"}
      }
    },
    {
      "data": {"name": "t_resolved"},
      "mark": {"type": "text", "font": "Liberation Sans", "fontSize": 53, "color": "#c00000", "align": "center", "baseline": "alphabetic", "lineBreak": "\n", "lineHeight": 63.5},
      "encoding": {
        "x": {"field": "E", "type": "quantitative", "scale": {"type": "log", "domain": [0.00001, 100000000], "nice": false}, "axis": null},
        "y": {"field": "s", "type": "quantitative", "scale": {"type": "log", "domain": [0.01, 10000], "nice": false}, "axis": null},
        "text": {"field": "t"}
      }
    },
    {
      "data": {"name": "t_unresolved"},
      "mark": {"type": "text", "font": "Liberation Sans", "fontSize": 62.5, "color": "#c00000", "align": "center", "baseline": "alphabetic", "lineBreak": "\n", "lineHeight": 76.5},
      "encoding": {
        "x": {"field": "E", "type": "quantitative", "scale": {"type": "log", "domain": [0.00001, 100000000], "nice": false}, "axis": null},
        "y": {"field": "s", "type": "quantitative", "scale": {"type": "log", "domain": [0.01, 10000], "nice": false}, "axis": null},
        "text": {"field": "t"}
      }
    },
    {
      "data": {"name": "t_thermal"},
      "mark": {"type": "text", "font": "Liberation Sans", "fontSize": 38, "color": "#c00000", "align": "center", "baseline": "alphabetic", "angle": 32},
      "encoding": {
        "x": {"field": "E", "type": "quantitative", "scale": {"type": "log", "domain": [0.00001, 100000000], "nice": false}, "axis": null},
        "y": {"field": "s", "type": "quantitative", "scale": {"type": "log", "domain": [0.01, 10000], "nice": false}, "axis": null},
        "text": {"field": "t"}
      }
    },
    {
      "data": {"name": "t_sigma"},
      "mark": {"type": "text", "font": "Liberation Sans", "fontSize": 64, "color": "black", "align": "left", "baseline": "alphabetic"},
      "encoding": {
        "x": {"field": "E", "type": "quantitative", "scale": {"type": "log", "domain": [0.00001, 100000000], "nice": false}, "axis": null},
        "y": {"field": "s", "type": "quantitative", "scale": {"type": "log", "domain": [0.01, 10000], "nice": false}, "axis": null},
        "text": {"field": "t"}
      }
    },
    {
      "data": {"name": "t_elastic"},
      "mark": {"type": "text", "font": "Liberation Sans", "fontSize": 42, "color": "black", "align": "left", "baseline": "alphabetic"},
      "encoding": {
        "x": {"field": "E", "type": "quantitative", "scale": {"type": "log", "domain": [0.00001, 100000000], "nice": false}, "axis": null},
        "y": {"field": "s", "type": "quantitative", "scale": {"type": "log", "domain": [0.01, 10000], "nice": false}, "axis": null},
        "text": {"field": "t"}
      }
    },
    {
      "data": {"name": "t_ekin"},
      "mark": {"type": "text", "font": "Liberation Sans", "fontSize": 37, "color": "black", "align": "left", "baseline": "alphabetic"},
      "encoding": {
        "x": {"field": "E", "type": "quantitative", "scale": {"type": "log", "domain": [0.00001, 100000000], "nice": false}, "axis": null},
        "y": {"field": "s", "type": "quantitative", "scale": {"type": "log", "domain": [0.01, 10000], "nice": false}, "axis": null},
        "text": {"field": "t"}
      }
    },
    {
      "data": {"name": "t_kin"},
      "mark": {"type": "text", "font": "Liberation Sans", "fontSize": 27, "color": "black", "align": "left", "baseline": "alphabetic"},
      "encoding": {
        "x": {"field": "E", "type": "quantitative", "scale": {"type": "log", "domain": [0.00001, 100000000], "nice": false}, "axis": null},
        "y": {"field": "s", "type": "quantitative", "scale": {"type": "log", "domain": [0.01, 10000], "nice": false}, "axis": null},
        "text": {"field": "t"}
      }
    },
    {
      "data": {"name": "xs"},
      "mark": {"type": "line", "strokeWidth": 1.3, "opacity": 1},
      "encoding": {
        "x": {
          "field": "E", "type": "quantitative",
          "scale": {"type": "log", "domain": [0.00001, 100000000], "nice": false},
          "axis": {
            "orient": "top", "labels": false, "grid": false, "title": null,
            "values": [0.00001,0.00002,0.00003,0.00004,0.00005,0.00006,0.00007,0.00008,0.00009,0.0001,0.001,0.002,0.003,0.004,0.005,0.006,0.007,0.008,0.009,0.01,0.1,0.2,0.3,0.4,0.5,0.6,0.7,0.8,0.9,1,10,20,30,40,50,60,70,80,90,100,1000,2000,3000,4000,5000,6000,7000,8000,9000,10000,100000,200000,300000,400000,500000,600000,700000,800000,900000,1000000,10000000,20000000,30000000,40000000,50000000,60000000,70000000,80000000,90000000,100000000],
            "tickSize": {"condition": {"test": "indexof([0.0001,0.01,1,100,10000,1000000,100000000], datum.value) >= 0", "value": -14}, "value": -7}
          }
        },
        "y": {
          "field": "b", "type": "quantitative",
          "scale": {"type": "log", "domain": [0.01, 10000], "nice": false},
          "axis": {
            "orient": "right", "labels": false, "grid": false, "title": null,
            "values": [0.01,0.02,0.03,0.04,0.05,0.06,0.07,0.08,0.09,0.1,0.2,0.3,0.4,0.5,0.6,0.7,0.8,0.9,1,2,3,4,5,6,7,8,9,10,20,30,40,50,60,70,80,90,100,200,300,400,500,600,700,800,900,1000,2000,3000,4000,5000,6000,7000,8000,9000,10000],
            "tickSize": {"condition": {"test": "indexof([0.01,0.1,1,10,100,1000,10000], datum.value) >= 0", "value": -14}, "value": -7}
          }
        },
        "color": {"datum": "PW-Elastic (0K)", "type": "nominal", "legend": null}
      }
    }
  ],
  "resolve": {"axis": {"x": "independent", "y": "independent"}}
}
